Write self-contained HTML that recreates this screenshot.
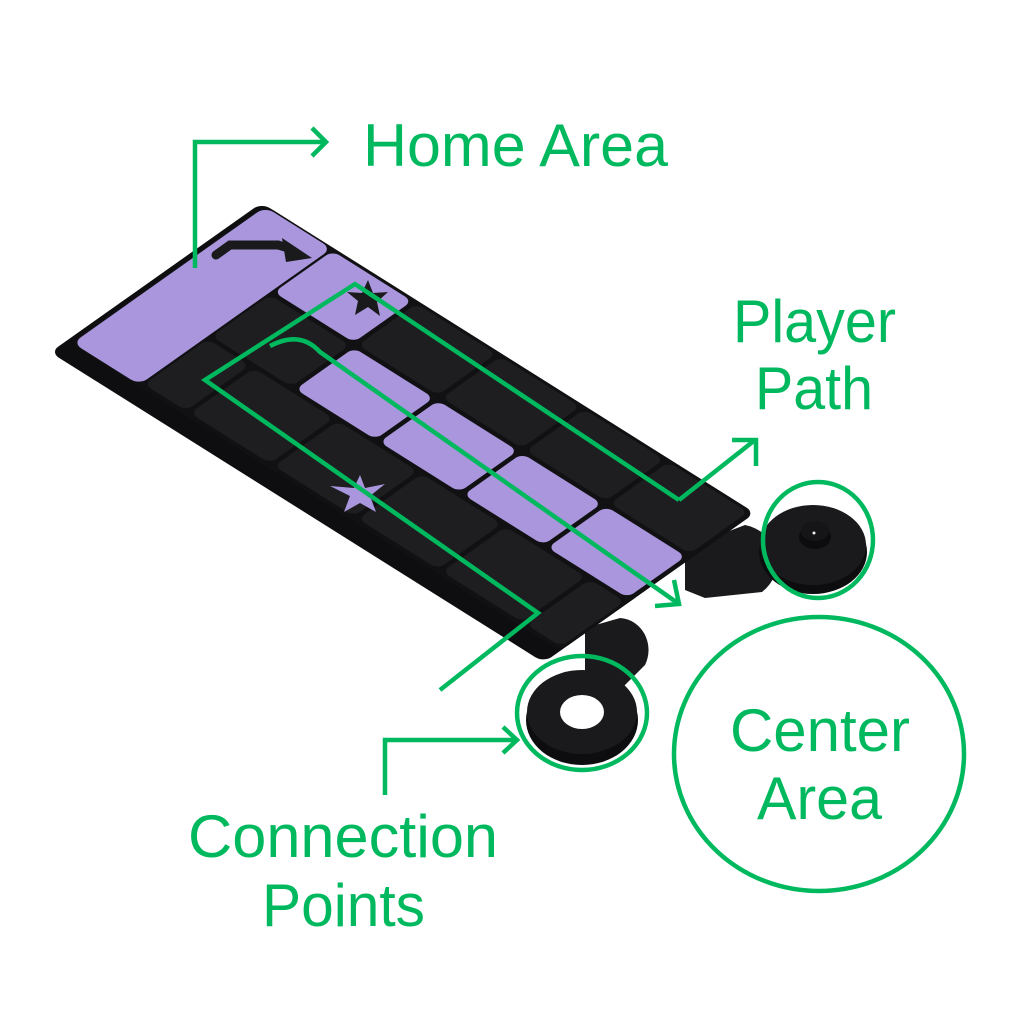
<!DOCTYPE html>
<html><head><meta charset="utf-8"><style>
html,body{margin:0;padding:0;background:#fff;}
svg{display:block;}
text{font-family:"Liberation Sans",sans-serif;fill:#00b95f;}
</style></head><body>
<svg width="1024" height="1024" viewBox="0 0 1024 1024" xmlns="http://www.w3.org/2000/svg">
<rect width="1024" height="1024" fill="#fff"/>
<!-- bottom tabs -->
<g fill="#1a1a1c">
 <path d="M585,628 L620,618 A30,32 0 0 1 645,665 L620,690 L585,690 Z"/>
 <ellipse cx="582" cy="720" rx="56" ry="45" fill="#0d0d0f"/>
 <ellipse cx="582" cy="712" rx="55" ry="42"/>
 <path d="M685,548 L745,525 A40,38 0 0 1 762,592 L705,598 L685,590 Z"/>
 <ellipse cx="813" cy="552" rx="54" ry="42" fill="#0d0d0f"/>
 <ellipse cx="813" cy="545" rx="53" ry="40"/>
</g>
<ellipse cx="582" cy="712" rx="22" ry="17" fill="#fff"/>
<ellipse cx="815" cy="537" rx="16" ry="12" fill="#0c0c0e"/>
<ellipse cx="815" cy="531" rx="14" ry="10" fill="#151518"/>
<circle cx="814" cy="533" r="1.5" fill="#eee"/>
<!-- board -->
<g transform="matrix(70,44,-65,46,265,205)">
 <rect x="-0.05" y="0" width="7.05" height="3.25" rx="0.12" fill="#0e0e10"/>
 <rect x="0" y="0" width="7" height="3" rx="0.12" fill="#111113"/>
 <rect x="0.02" y="0.02" width="0.95" height="2.96" rx="0.12" fill="#a996dc"/>
 <g fill="#1e1e20">
  <rect x="1.0" y="0.04" width="1.14" height="0.9" rx="0.1" fill="#a996dc"/>
  <rect x="2.2" y="0.04" width="1.14" height="0.9" rx="0.1"/>
  <rect x="3.4" y="0.04" width="1.14" height="0.9" rx="0.1"/>
  <rect x="4.6" y="0.04" width="1.14" height="0.9" rx="0.1"/>
  <rect x="5.8" y="0.04" width="1.14" height="0.9" rx="0.1"/>
  <rect x="1.0" y="1.0" width="1.14" height="0.9" rx="0.1"/>
  <rect x="2.2" y="1.0" width="1.14" height="0.9" rx="0.1" fill="#a996dc"/>
  <rect x="3.4" y="1.0" width="1.14" height="0.9" rx="0.1" fill="#a996dc"/>
  <rect x="4.6" y="1.0" width="1.14" height="0.9" rx="0.1" fill="#a996dc"/>
  <rect x="5.8" y="1.0" width="1.14" height="0.9" rx="0.1" fill="#a996dc"/>
  <rect x="1.0" y="1.96" width="0.6" height="0.98" rx="0.1"/>
  <rect x="1.66" y="1.96" width="1.14" height="0.98" rx="0.1"/>
  <rect x="2.86" y="1.96" width="1.14" height="0.98" rx="0.1"/>
  <rect x="4.06" y="1.96" width="1.14" height="0.98" rx="0.1"/>
  <rect x="5.26" y="1.96" width="1.14" height="0.98" rx="0.1"/>
  <rect x="6.46" y="1.96" width="0.5" height="0.98" rx="0.1"/>
 </g>
</g>
<!-- arrow icon on home -->
<path d="M216,255 L230,245 L278,245 L288,248" stroke="#1a1a1c" stroke-width="9" fill="none" stroke-linecap="round"/>
<polygon points="282,238 312,258 286,262" fill="#1a1a1c"/>
<!-- stars -->
<polygon points="368,280 373,293 388,292 377,302 380,316 368,307 355,315 358,301 347,292 362,293" fill="#1a1a1c"/>
<polygon points="360,475 365,488 385,484 370,496 376,512 360,503 344,512 350,496 330,486 354,488" fill="#a996dc"/>
<!-- green annotations -->
<g stroke="#00b95f" stroke-width="4.5" fill="none" stroke-linejoin="miter">
 <polyline points="195,268 195,142 325,142"/>
 <polyline points="312,128 326,142 312,156"/>
 <polyline points="679,500 355,284 205,380 538,613 440,690"/>
 <polyline points="679,500 755,440"/>
 <polyline points="732,440 756,440 756,466"/>
 <path d="M270,346 Q300,330 320,352 L679,604"/>
 <polyline points="674,580 679,604 655,606"/>
 <polyline points="385,795 385,740 515,740"/>
 <polyline points="503,727 517,740 503,753"/>
 <ellipse cx="582" cy="713" rx="65" ry="57"/>
 <ellipse cx="818" cy="540" rx="55" ry="58"/>
 <ellipse cx="819" cy="754" rx="145" ry="137"/>
</g>
<text x="363" y="166" font-size="60" textLength="305" lengthAdjust="spacingAndGlyphs">Home Area</text>
<text x="733" y="342" font-size="60" textLength="163" lengthAdjust="spacingAndGlyphs">Player</text>
<text x="755" y="409" font-size="60" textLength="118" lengthAdjust="spacingAndGlyphs">Path</text>
<text x="730" y="751" font-size="60" textLength="180" lengthAdjust="spacingAndGlyphs">Center</text>
<text x="757" y="819" font-size="60" textLength="125" lengthAdjust="spacingAndGlyphs">Area</text>
<text x="188" y="857" font-size="60" textLength="310" lengthAdjust="spacingAndGlyphs">Connection</text>
<text x="262" y="926" font-size="60" textLength="163" lengthAdjust="spacingAndGlyphs">Points</text>
</svg>
</body></html>
